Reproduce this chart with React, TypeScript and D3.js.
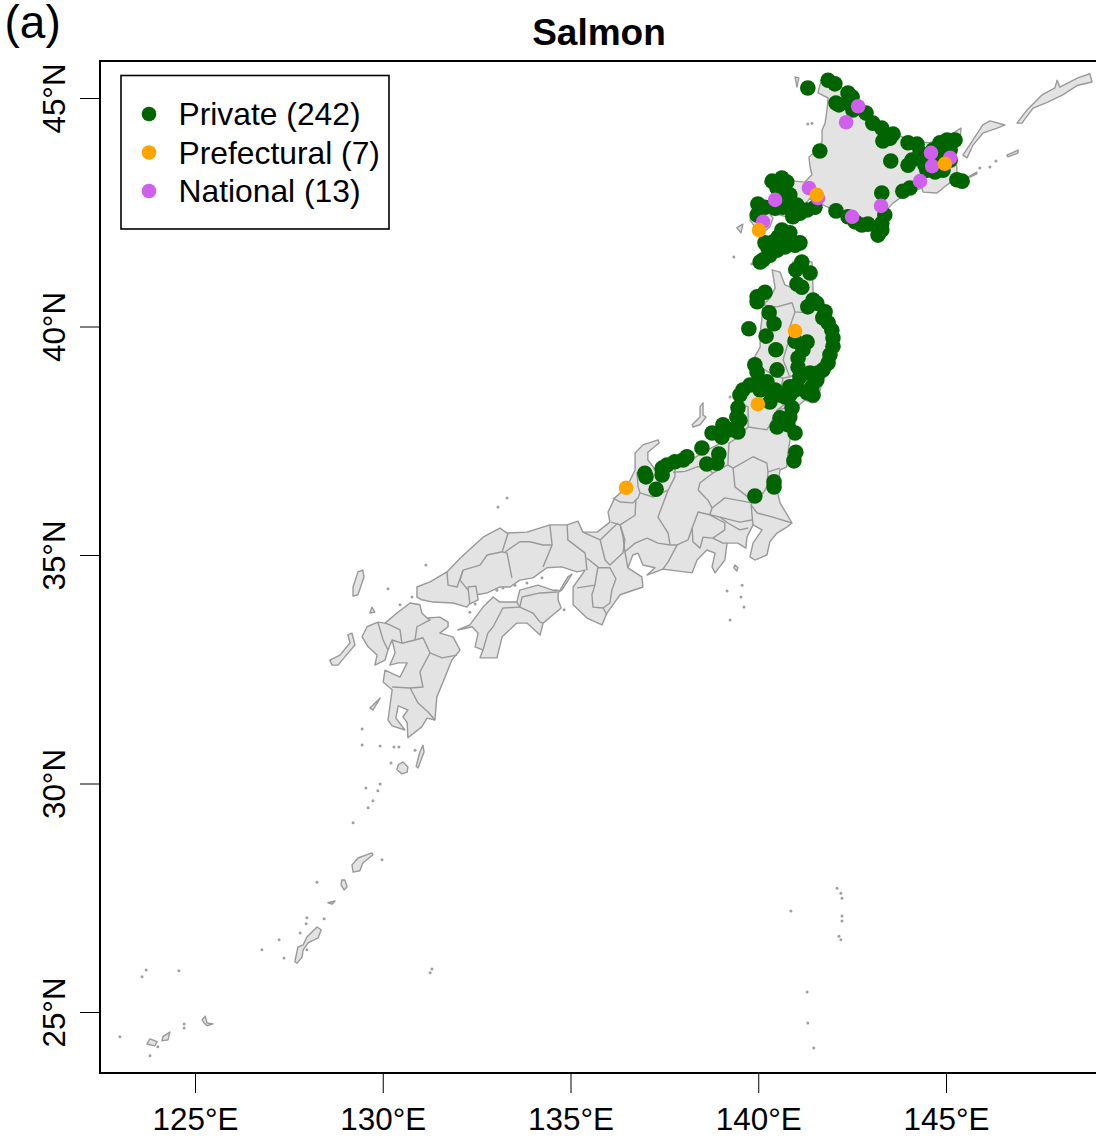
import React, { useEffect, useRef } from 'react';
import * as d3 from 'd3';

type LonLat = [number, number];

const lonTicks = [125, 130, 135, 140, 145];
const latTicks = [25, 30, 35, 40, 45];

const legendLabels = ['Private (242)', 'Prefectural (7)', 'National (13)'];

// Coastlines (lon, lat)
const hokkaido: LonLat[] = [[141.64,45.28],[141.59,45.11],[141.86,45.0],[141.83,44.74],[141.78,44.45],[141.7,44.3],[141.7,44.04],[141.51,43.82],[141.35,43.71],[141.38,43.49],[141.43,43.32],[141.24,43.16],[140.98,43.18],[140.71,43.32],[140.31,43.27],[140.18,43.14],[140.45,43.03],[140.53,42.83],[140.31,42.72],[139.97,42.77],[139.83,42.55],[139.78,42.33],[139.91,42.18],[140.05,42.01],[140.31,42.18],[140.39,42.37],[140.26,42.51],[140.76,42.4],[141.19,42.62],[141.38,42.81],[141.56,42.72],[141.91,42.59],[142.36,42.37],[142.79,42.16],[143.16,42.05],[143.24,42.4],[143.59,42.7],[143.96,42.92],[144.36,43.03],[144.39,42.94],[144.76,42.92],[145.03,43.1],[145.29,43.25],[145.5,43.21],[145.56,43.25],[145.29,43.32],[145.29,43.49],[145.19,43.71],[145.37,44.08],[145.4,44.34],[145.24,44.26],[144.92,44.12],[144.57,44.02],[144.23,44.04],[143.69,44.19],[143.32,44.3],[142.9,44.63],[142.52,44.91],[142.31,45.18],[142.1,45.28],[141.86,45.46],[141.72,45.44]];

const honshu: LonLat[] = [[140.37,41.24],[140.58,41.19],[140.71,40.91],[140.92,40.84],[141.03,41.13],[140.92,41.41],[141.11,41.5],[141.43,41.41],[141.46,40.8],[141.46,40.58],[141.83,40.36],[142.1,39.92],[142.12,39.55],[141.99,39.11],[141.72,38.83],[141.56,38.35],[141.43,38.33],[141.24,38.39],[141.03,38.24],[140.9,37.8],[140.79,37.23],[140.76,36.93],[140.58,36.86],[140.5,36.42],[140.58,36.14],[140.9,35.7],[140.76,35.61],[140.5,35.48],[140.31,35.29],[140.23,35.0],[139.91,34.89],[139.78,34.96],[139.86,35.26],[140.1,35.55],[139.86,35.66],[139.7,35.39],[139.67,35.15],[139.46,35.26],[139.17,35.26],[139.11,34.89],[138.85,34.61],[138.77,34.74],[138.85,35.04],[138.63,35.11],[138.37,34.89],[138.24,34.61],[137.46,34.69],[137.04,34.56],[137.25,34.72],[136.93,34.78],[136.8,35.04],[136.66,35.0],[136.53,34.72],[136.9,34.52],[136.93,34.3],[136.32,34.13],[135.97,33.73],[135.84,33.47],[135.44,33.62],[135.07,33.91],[135.07,34.3],[135.39,34.67],[135.17,34.63],[134.77,34.74],[134.37,34.72],[134.0,34.5],[133.65,34.45],[133.39,34.3],[133.12,34.3],[132.78,34.17],[132.51,34.13],[132.24,33.86],[131.87,33.95],[131.34,33.97],[131.04,34.02],[130.91,34.08],[130.91,34.3],[131.26,34.41],[131.71,34.63],[132.06,34.93],[132.67,35.39],[133.12,35.59],[133.31,35.48],[133.84,35.5],[134.45,35.66],[134.91,35.66],[135.2,35.74],[135.33,35.5],[135.71,35.5],[136.05,35.72],[136.0,35.94],[136.18,36.25],[136.5,36.49],[136.72,36.86],[136.72,37.23],[136.93,37.41],[137.33,37.52],[137.36,37.45],[137.06,37.25],[137.06,37.08],[137.2,36.93],[137.33,36.69],[137.78,36.9],[138.1,37.01],[138.53,37.25],[139.17,37.52],[139.51,37.95],[139.43,38.33],[139.43,38.54],[139.86,38.83],[139.86,39.27],[140.05,39.55],[140.05,39.86],[140.1,40.19],[140.13,40.47],[140.31,40.62],[140.45,40.84]];

const shikoku: LonLat[] = [[132.0,33.36],[132.32,33.47],[132.67,33.86],[132.94,34.08],[133.12,33.97],[133.57,33.97],[133.65,34.23],[134.13,34.34],[134.53,34.23],[134.67,34.23],[134.67,34.02],[134.75,33.84],[134.27,33.51],[134.19,33.25],[133.84,33.51],[133.57,33.51],[133.18,33.21],[133.04,32.75],[132.59,32.75],[132.67,32.92],[132.46,32.99],[132.54,33.29],[132.38,33.43]];

const kyushu: LonLat[] = [[130.99,33.91],[131.04,33.73],[131.18,33.62],[131.52,33.64],[131.74,33.53],[131.74,33.43],[131.52,33.29],[131.87,33.21],[132.06,32.92],[131.84,32.7],[131.66,32.33],[131.44,31.89],[131.39,31.39],[131.18,31.43],[131.04,31.24],[130.67,31.0],[130.65,31.33],[130.54,31.46],[130.67,31.61],[130.41,31.7],[130.35,31.43],[130.59,31.17],[130.25,31.26],[130.14,31.39],[130.25,32.05],[130.01,32.22],[130.06,32.48],[130.46,32.33],[130.65,32.64],[130.41,32.64],[130.19,32.59],[130.33,32.86],[130.25,33.14],[130.14,32.92],[130.06,32.7],[129.79,32.59],[129.85,32.81],[129.61,32.99],[129.45,33.21],[129.58,33.43],[129.87,33.53],[130.06,33.51],[130.38,33.73],[130.73,33.95]];

const islands: LonLat[][] = [
  [[145.45,43.75],[145.58,43.91],[145.98,44.41],[146.17,44.5],[146.57,44.41],[146.36,44.34],[145.98,44.23],[145.72,43.97],[145.56,43.69]],
  [[146.89,44.45],[147.16,44.74],[147.56,45.07],[147.9,45.22],[147.96,45.39],[148.03,45.24],[148.51,45.44],[148.83,45.53],[148.89,45.35],[148.51,45.28],[148.11,45.07],[147.71,44.91],[147.32,44.78],[147.02,44.45]],
  [[146.62,43.75],[146.92,43.86],[146.92,43.8],[146.65,43.71]],
  [[145.58,43.27],[145.82,43.38],[145.82,43.34],[145.64,43.27]],
  [[135.04,34.58],[134.77,34.23],[134.69,34.19],[134.93,34.52]],
  [[131.07,30.84],[131.1,30.69],[130.94,30.34],[130.89,30.38],[130.99,30.69]],
  [[130.41,30.41],[130.54,30.47],[130.67,30.36],[130.65,30.25],[130.51,30.21],[130.38,30.3]],
  [[129.18,28.22],[129.34,28.37],[129.71,28.48],[129.74,28.44],[129.47,28.26],[129.39,28.09],[129.21,28.06]],
  [[128.91,27.89],[128.99,27.89],[129.05,27.74],[128.97,27.67],[128.89,27.78]],
  [[128.54,27.39],[128.73,27.43],[128.65,27.36]],
  [[127.66,26.1],[127.74,26.42],[127.88,26.47],[127.98,26.64],[128.25,26.86],[128.36,26.8],[128.28,26.62],[128.01,26.51],[127.88,26.36],[127.85,26.2],[127.72,26.07]],
  [[123.72,24.3],[123.8,24.41],[123.99,24.35],[123.93,24.26]],
  [[124.15,24.46],[124.33,24.56],[124.28,24.39],[124.12,24.37]],
  [[125.19,24.83],[125.27,24.91],[125.32,24.76],[125.48,24.74],[125.32,24.7],[125.24,24.76]],
  [[129.66,31.65],[129.93,31.87],[129.74,31.61]],
  [[129.47,34.67],[129.5,34.52],[129.34,34.13],[129.21,34.1],[129.21,34.3],[129.34,34.63]],
  [[129.71,33.86],[129.79,33.75],[129.66,33.73]],
  [[128.59,32.7],[128.86,32.81],[129.13,33.08],[129.07,33.25],[129.18,33.29],[129.26,33.03],[128.99,32.77],[128.81,32.59],[128.65,32.59]],
  [[138.24,37.85],[138.45,38.02],[138.45,38.24],[138.53,38.33],[138.53,38.06],[138.61,38.02],[138.45,37.85],[138.26,37.8]],
  [[140.98,45.46],[141.08,45.44],[141.03,45.24]],
  [[139.43,42.16],[139.59,42.24],[139.54,42.05]],
  [[139.38,34.78],[139.46,34.72],[139.43,34.65],[139.35,34.72]],
  [[132.27,34.3],[132.48,34.32],[132.54,34.02],[132.32,33.93]],
];

const islets: LonLat[] = [[129.93,30.82],[130.3,30.8],[130.43,30.8],[129.45,30.84],[130.86,30.73],[130.22,30.45],[129.93,29.99],[129.87,29.84],[129.55,29.9],[129.74,29.62],[129.61,29.47],[129.21,29.14],[129.98,28.33],[128.25,27.84],[128.44,27.04],[127.98,27.06],[127.96,26.93],[127.8,26.73],[127.24,26.58],[127.37,26.18],[126.78,26.36],[131.26,25.86],[131.31,25.94],[123.7,25.92],[123.59,25.77],[124.57,25.9],[123.0,24.46],[123.8,24.04],[124.01,24.24],[124.71,24.65],[124.71,24.74],[127.98,26.36],[131.15,34.78],[130.14,34.26],[133.31,36.25],[133.07,36.05],[134.24,34.5],[139.25,38.46],[139.54,34.08],[139.17,34.21],[139.57,34.34],[139.62,33.86],[139.25,33.58],[141.32,44.43],[141.43,44.45],[139.35,41.52],[139.83,41.37],[145.9,43.47],[146.17,43.49],[146.33,43.62],[142.1,27.71],[142.2,27.6],[142.23,27.49],[140.87,27.21],[142.23,27.1],[142.23,26.99],[142.15,26.66],[142.2,26.58],[141.3,25.44],[141.32,24.76],[141.48,24.21],[133.04,34.23],[133.2,34.28],[133.52,34.34],[133.84,34.39],[132.32,33.75],[132.46,33.93],[134.83,33.8],[130.46,33.91],[130.78,34.08],[129.45,31.19]];

// Prefecture borders
const borders: LonLat[][] = [
  [[140.13,40.47],[140.5,40.43],[140.9,40.52],[140.98,40.32],[141.3,40.3],[141.59,40.41],[141.83,40.36]],
  [[140.98,40.32],[140.84,39.99],[140.84,39.77],[140.66,39.27],[140.84,38.9]],
  [[140.05,39.11],[140.5,38.9],[140.66,38.87],[140.84,38.9]],
  [[140.84,38.9],[141.11,38.98],[141.46,38.9],[141.72,38.87]],
  [[140.66,38.87],[140.58,38.55],[140.76,38.33],[140.5,38.17]],
  [[140.5,38.17],[140.84,38.24],[141.03,38.24]],
  [[139.43,38.33],[139.73,38.24],[139.73,37.8]],
  [[139.73,37.8],[140.23,37.74],[140.31,37.85],[140.5,38.17]],
  [[139.73,37.8],[139.43,37.56],[139.22,37.45],[139.19,36.97],[139.33,36.9]],
  [[139.33,36.9],[139.86,37.15],[140.23,37.01],[140.26,36.82],[140.58,36.9]],
  [[140.26,36.82],[140.23,36.49],[140.13,36.36],[139.83,36.2]],
  [[139.33,36.9],[139.38,36.49],[139.83,36.2]],
  [[139.19,36.97],[138.79,36.79],[138.45,36.58],[138.4,36.42],[138.66,36.2],[138.77,36.03]],
  [[138.77,36.03],[139.11,36.25],[139.83,36.14]],
  [[138.77,36.03],[138.71,35.88],[138.98,35.83],[139.51,35.72],[139.86,35.77]],
  [[139.81,36.09],[139.97,35.92],[140.39,35.83],[140.9,35.7]],
  [[139.83,36.14],[139.81,36.09],[139.86,35.66]],
  [[138.98,35.83],[139.19,35.7],[139.51,35.55],[139.73,35.59]],
  [[138.24,35.59],[138.4,35.94],[138.71,35.88],[139.11,35.7],[139.11,35.55],[138.79,35.37],[138.53,35.39],[138.45,35.15],[138.26,35.29],[138.24,35.59]],
  [[138.79,35.37],[139.06,35.26],[139.17,35.26]],
  [[138.24,35.59],[138.13,35.33],[137.84,35.22],[137.6,34.85],[137.46,34.69]],
  [[137.78,36.9],[137.78,36.71],[137.6,36.42],[137.33,35.83],[137.6,35.48],[137.65,35.22]],
  [[137.73,36.81],[138.05,36.83],[138.37,36.93],[138.63,36.93],[138.79,36.79]],
  [[136.85,36.36],[137.2,36.27],[137.6,36.42]],
  [[136.77,36.82],[136.8,36.49],[136.85,36.36]],
  [[136.13,36.25],[136.32,36.16],[136.66,36.14],[136.8,36.25],[136.85,36.36]],
  [[136.74,36.2],[136.72,35.87],[136.32,35.66],[136.08,35.72]],
  [[136.32,35.66],[136.4,35.39],[136.45,35.07],[136.72,35.26],[137.04,35.37],[137.33,35.26],[137.65,35.22],[137.84,35.22]],
  [[136.32,35.66],[136.45,35.33],[136.4,35.05],[136.05,34.78],[135.92,34.89],[135.79,35.33],[136.26,35.7]],
  [[135.33,35.5],[135.79,35.33]],
  [[134.91,35.66],[134.93,35.33],[135.39,35.04],[135.44,34.67]],
  [[134.45,35.66],[134.51,35.22],[134.27,34.74]],
  [[133.26,35.07],[133.65,35.29],[133.92,35.29],[134.27,35.22],[134.51,35.22]],
  [[133.34,35.48],[133.18,35.07]],
  [[133.18,35.07],[133.31,35.04],[133.44,34.5]],
  [[133.18,35.07],[132.78,35.0],[132.59,34.78],[132.14,34.67]],
  [[132.14,34.67],[132.06,34.45],[132.27,34.23]],
  [[131.71,34.63],[131.74,34.34],[131.98,34.3],[132.14,34.67]],
  [[135.44,34.93],[135.73,34.74],[135.65,34.34],[135.17,34.28]],
  [[135.73,34.72],[136.05,34.72],[136.21,34.48],[136.1,34.23],[136.05,33.95],[135.87,33.84],[135.6,33.86],[135.57,34.13],[135.65,34.34]],
  [[135.87,33.84],[135.97,33.69]],
  [[136.45,35.07],[136.53,34.72]],
  [[133.65,33.86],[133.71,34.08],[134.19,34.17],[134.64,34.19]],
  [[133.57,33.97],[133.65,33.86]],
  [[133.65,33.86],[133.2,33.84],[132.94,33.43],[132.8,33.29],[132.67,32.92]],
  [[133.65,33.86],[134.0,33.73],[134.19,33.53],[134.27,33.51]],
  [[131.18,33.62],[131.26,33.58],[130.91,33.43],[130.86,33.14]],
  [[130.86,33.14],[131.07,33.19],[131.26,32.86]],
  [[131.26,32.86],[131.58,32.75],[131.98,32.81]],
  [[131.26,32.86],[130.99,32.44],[131.07,32.11],[130.73,32.09]],
  [[130.25,32.11],[130.73,32.09]],
  [[130.73,32.09],[130.94,31.76],[131.2,31.57],[131.39,31.39]],
  [[130.25,33.14],[130.51,33.07],[130.86,33.14]],
  [[130.51,33.07],[130.46,33.36],[130.19,33.47],[130.06,33.51]],
  [[129.87,33.53],[130.01,33.14],[130.14,32.92]],
];

// Hatchery sites by owner
const privateSites: LonLat[] = [[141.32,45.22],[141.86,45.39],[142.04,45.31],[142.39,45.11],[142.5,45.02],[142.07,44.89],[142.15,44.85],[142.47,44.85],[142.52,44.74],[142.87,44.67],[143.05,44.45],[143.29,44.34],[143.59,44.21],[143.51,44.12],[143.32,44.06],[143.99,44.02],[144.23,43.99],[144.31,43.8],[144.09,43.64],[143.99,43.53],[143.53,43.62],[145.03,44.08],[145.24,44.08],[144.84,44.02],[144.65,43.86],[144.39,43.64],[144.49,43.42],[144.92,43.42],[145.11,43.64],[144.79,43.75],[144.84,43.53],[144.71,43.6],[144.97,43.86],[144.44,43.53],[144.71,43.38],[145.11,43.86],[144.57,43.64],[145.29,43.21],[145.43,43.18],[141.64,43.84],[144.04,43.03],[143.85,42.96],[143.29,42.92],[143.37,42.44],[143.29,42.26],[143.29,42.11],[143.19,42.0],[142.92,42.24],[142.76,42.22],[142.58,42.29],[142.39,42.4],[142.07,42.53],[141.51,42.61],[141.3,42.55],[141.11,42.48],[140.92,42.4],[140.84,42.88],[140.79,42.7],[141.03,42.66],[140.66,42.83],[140.63,43.25],[140.76,43.16],[140.37,43.18],[140.5,43.03],[139.99,42.68],[139.97,42.44],[140.18,42.61],[140.45,42.59],[140.66,42.61],[140.63,42.11],[140.84,42.05],[141.11,41.83],[140.98,41.78],[140.18,41.83],[140.39,41.85],[140.63,41.83],[140.79,41.85],[140.31,41.56],[140.13,41.46],[140.5,41.67],[140.45,41.74],[140.71,41.74],[140.53,41.96],[140.26,41.72],[140.05,41.41],[140.84,41.89],[141.16,41.41],[141.0,41.24],[141.38,41.17],[141.03,40.93],[141.16,40.86],[140.18,40.75],[139.97,40.65],[139.97,40.54],[141.46,40.58],[141.56,40.51],[141.32,40.43],[141.78,40.32],[141.72,40.19],[141.86,40.08],[141.96,39.92],[141.99,39.75],[141.99,39.57],[141.91,39.38],[141.86,39.2],[141.72,39.05],[141.59,38.98],[140.29,40.3],[140.42,40.06],[139.75,39.95],[140.21,39.79],[140.47,39.49],[140.5,39.05],[140.98,39.68],[141.3,39.66],[141.19,39.49],[141.06,39.31],[141.06,39.11],[141.11,38.9],[141.38,38.98],[141.56,38.83],[141.43,38.68],[141.3,38.55],[141.46,38.5],[141.03,38.72],[140.84,38.68],[140.71,38.46],[139.91,39.16],[139.97,39.0],[140.23,38.79],[139.99,38.76],[139.78,38.72],[139.59,38.61],[139.51,38.5],[140.45,38.61],[140.31,38.35],[140.37,38.5],[140.05,38.61],[140.58,38.5],[140.84,38.5],[140.98,38.61],[140.18,38.72],[139.46,38.22],[139.43,38.02],[139.51,37.95],[140.9,38.22],[140.84,38.02],[140.58,38.0],[140.5,37.8],[140.79,37.85],[140.98,37.67],[141.0,37.25],[140.95,37.06],[140.42,36.6],[140.42,36.49],[139.91,36.29],[139.06,37.85],[139.46,37.69],[139.25,37.74],[139.03,37.58],[138.77,37.67],[138.5,37.34],[138.95,37.21],[138.9,37.01],[138.63,36.99],[138.1,37.15],[138.0,37.08],[137.78,37.04],[137.57,36.97],[137.44,36.9],[137.44,36.75],[137.01,36.71],[136.98,36.79],[137.28,36.44]];

const nationalSites: LonLat[] = [[142.66,44.82],[142.34,44.47],[144.6,43.8],[145.11,43.69],[144.63,43.51],[144.31,43.18],[143.27,42.64],[142.5,42.4],[141.35,43.03],[141.59,42.81],[140.45,42.77],[140.13,42.29]];

const prefecturalSites: LonLat[] = [[136.48,36.47],[139.99,38.3],[140.98,39.9],[140.02,42.11],[141.56,42.88],[144.97,43.56]];

const WIDTH = 1096;
const HEIGHT = 1142;
const FONT = '"Liberation Sans", Arial, sans-serif';
const margin = { top: 61, left: 100, bottom: 1073 };

const legendColors = ['#006400', '#FFA500', '#D15FEE'];

export default function App() {
  const ref = useRef<SVGSVGElement>(null);

  useEffect(() => {
    const svg = d3.select(ref.current);
    svg.selectAll('*').remove();

    const x = d3.scaleLinear().domain([125, 145]).range([195, 946]);
    const y = d3.scaleLinear().domain([25, 45]).range([1012, 98]);

    const line = d3
      .line<LonLat>()
      .x(d => x(d[0]))
      .y(d => y(d[1]));

    // Land
    const land = svg.append('g').attr('stroke-linejoin', 'round');
    land
      .selectAll('path.land')
      .data([hokkaido, honshu, shikoku, kyushu, ...islands])
      .enter()
      .append('path')
      .attr('class', 'land')
      .attr('d', d => line(d) + 'Z')
      .attr('fill', '#E3E3E3')
      .attr('stroke', '#999999')
      .attr('stroke-width', 1.4);

    land
      .selectAll('path.border')
      .data(borders)
      .enter()
      .append('path')
      .attr('class', 'border')
      .attr('d', d => line(d))
      .attr('fill', 'none')
      .attr('stroke', '#999999')
      .attr('stroke-width', 1.4);

    land
      .selectAll('circle')
      .data(islets)
      .enter()
      .append('circle')
      .attr('cx', d => x(d[0]))
      .attr('cy', d => y(d[1]))
      .attr('r', 1.5)
      .attr('fill', '#A0A0A0');

    // Sites, same draw order as the picture
    const drawSites = (sites: LonLat[], color: string, r: number) => {
      svg
        .append('g')
        .selectAll('circle')
        .data(sites)
        .enter()
        .append('circle')
        .attr('cx', d => x(d[0]))
        .attr('cy', d => y(d[1]))
        .attr('r', r)
        .attr('fill', color);
    };
    drawSites(privateSites, legendColors[0], 7.8);
    drawSites(nationalSites, legendColors[2], 7.3);
    drawSites(prefecturalSites, legendColors[1], 7.3);

    // Frame, right side runs off the page
    svg
      .append('rect')
      .attr('x', margin.left)
      .attr('y', margin.top)
      .attr('width', WIDTH)
      .attr('height', margin.bottom - margin.top)
      .attr('fill', 'none')
      .attr('stroke', '#000')
      .attr('stroke-width', 2);

    // Axes
    const xAxis = d3
      .axisBottom(x)
      .tickValues(lonTicks)
      .tickSize(20)
      .tickFormat(d => `${d}°E`);
    const xAxisDraw = svg
      .append('g')
      .attr('transform', `translate(0,${margin.bottom})`)
      .call(xAxis);
    xAxisDraw.select('.domain').remove();
    xAxisDraw
      .selectAll('text')
      .attr('y', 57)
      .attr('dy', 0)
      .style('font-family', FONT)
      .style('font-size', '31.4px')
      .attr('fill', '#000');

    const yAxis = d3
      .axisLeft(y)
      .tickValues(latTicks)
      .tickSize(20)
      .tickFormat(d => `${d}°N`);
    const yAxisDraw = svg
      .append('g')
      .attr('transform', `translate(${margin.left},0)`)
      .call(yAxis);
    yAxisDraw.select('.domain').remove();
    yAxisDraw
      .selectAll('text')
      .attr('x', 0)
      .attr('dy', 0)
      .attr('transform', 'translate(-35,0) rotate(-90)')
      .attr('text-anchor', 'middle')
      .style('font-family', FONT)
      .style('font-size', '31.4px')
      .attr('fill', '#000');

    // Title and panel letter
    svg
      .append('text')
      .attr('x', 599)
      .attr('y', 45)
      .attr('text-anchor', 'middle')
      .style('font-family', FONT)
      .style('font-size', '37px')
      .style('font-weight', 'bold')
      .text('Salmon');

    svg
      .append('text')
      .attr('x', 4.5)
      .attr('y', 38)
      .style('font-family', FONT)
      .style('font-size', '46px')
      .text('(a)');

    // Legend
    const legend = svg.append('g');
    legend
      .append('rect')
      .attr('x', 121)
      .attr('y', 75.5)
      .attr('width', 268)
      .attr('height', 153.5)
      .attr('fill', '#fff')
      .attr('stroke', '#000')
      .attr('stroke-width', 1.6);

    const rows = legend
      .selectAll('g')
      .data(legendLabels)
      .enter()
      .append('g')
      .attr('transform', (d, i) => `translate(0,${114 + i * 38.5})`);
    rows
      .append('circle')
      .attr('cx', 149)
      .attr('r', 7.3)
      .attr('fill', (d, i) => legendColors[i]);
    rows
      .append('text')
      .attr('x', 178.5)
      .attr('y', 11)
      .style('font-family', FONT)
      .style('font-size', '31.8px')
      .text(d => d);
  }, []);

  return (
    <svg
      ref={ref}
      width={WIDTH}
      height={HEIGHT}
      style={{ position: 'absolute', left: 0, top: 0, display: 'block', background: '#fff' }}
    />
  );
}
